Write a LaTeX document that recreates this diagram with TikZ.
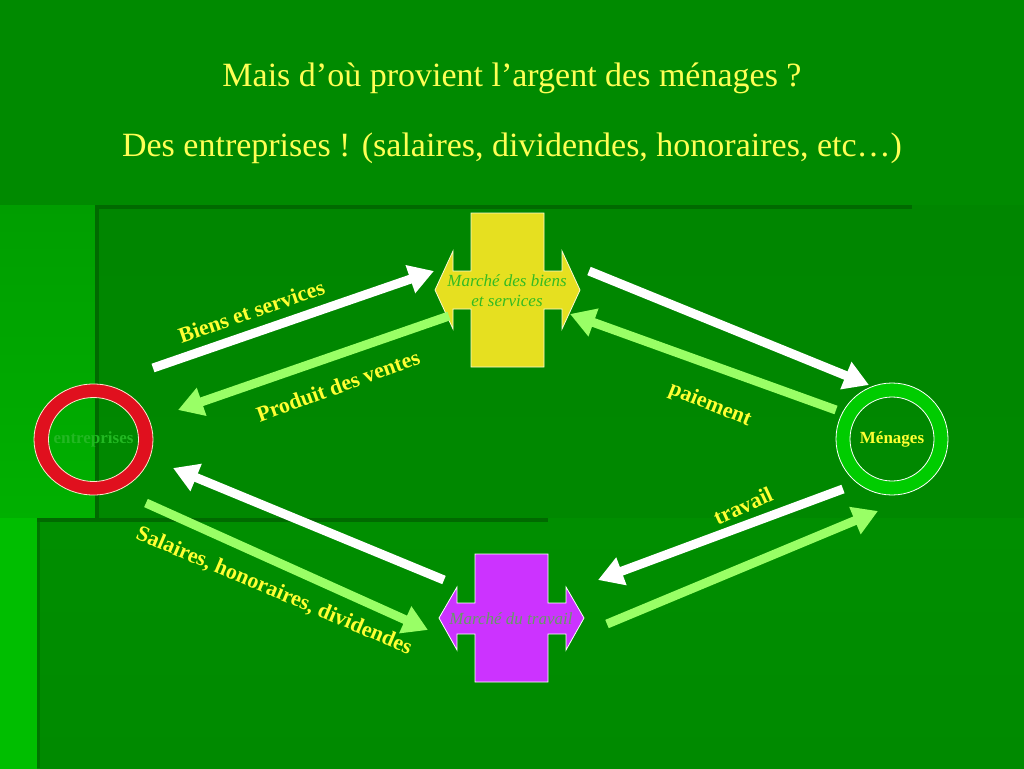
\documentclass[tikz,border=0pt]{standalone}
\usepackage{fontspec}
\setmainfont{Liberation Serif}
\usetikzlibrary{arrows.meta}

\definecolor{bgmain}{HTML}{008A00}
\definecolor{bgpanel}{HTML}{008600}
\definecolor{bglow}{HTML}{008E00}
\definecolor{bgleft}{HTML}{009E00}
\definecolor{bgleftlow}{HTML}{00BE00}
\definecolor{bgline}{HTML}{006A00}
\definecolor{titleyellow}{HTML}{FFFF55}
\definecolor{labelyellow}{HTML}{FFFF33}
\definecolor{arrowgreen}{HTML}{99FF66}
\definecolor{crossyellow}{HTML}{E6E020}
\definecolor{crosspurple}{HTML}{CC33FF}
\definecolor{ringred}{HTML}{E0101E}
\definecolor{ringgreen}{HTML}{00CC00}
\definecolor{biensgreen}{HTML}{33BB22}
\definecolor{travailgrey}{HTML}{669966}
\definecolor{entrgreen}{HTML}{22B822}

\tikzstyle{flow}=[line width=9pt, -{Triangle[length=25pt,width=28pt]}]
\tikzstyle{whiteflow}=[flow, draw=white, fill=white]
\tikzstyle{greenflow}=[flow, draw=arrowgreen, fill=arrowgreen]
\tikzstyle{flowlabel}=[text=labelyellow, inner sep=0pt,
                       font=\fontsize{22}{22}\selectfont\bfseries]
\tikzstyle{title}=[text=titleyellow, inner sep=0pt,
                   font=\fontsize{34}{34}\selectfont]
\tikzstyle{market}=[inner sep=0pt, align=center,
                    font=\fontsize{17}{20}\selectfont\itshape]
\tikzstyle{agent}=[inner sep=0pt, font=\fontsize{17}{17}\selectfont\bfseries]

\begin{document}
\begin{tikzpicture}[x=1pt, y=-1pt]

%%%%%%%%%%%%%%%%%%
% background
\useasboundingbox (0,0) rectangle (1024,768);
\fill[bgmain] (0,0) rectangle (1024,768);
\fill[bottom color=bgleftlow, top color=bgleft] (0,205) rectangle (95,768);
\fill[top color=bgpanel, bottom color=bgmain] (95,205) rectangle (1024,768);
\fill[top color=bglow, bottom color=bgmain] (37,518) rectangle (1024,768);
\fill[bgleftlow] (0,518) rectangle (37,768);
\fill[bgline] (95,205) rectangle (912,209);
\fill[bgline] (95,205) rectangle (99,520);
\fill[bgline] (37,518) rectangle (548,522);
\fill[bgline!70!bglow] (37,522) rectangle (40,768);

%%%%%%%%%%%%%%%%%%
% title
\node (Title1) at (512,78) [title] {Mais d’où provient l’argent des ménages ?};

\node (Title2) at (512,148) [title] {Des entreprises ! (salaires, dividendes, honoraires, etc…)};

%%%%%%%%%%%%%%%%%%
% markets
\fill[crossyellow, draw=white!80!crossyellow, line width=0.8pt]
  (435,290) -- (453,251) -- (453,271) -- (471,271) -- (471,213) -- (544,213)
  -- (544,271) -- (562,271) -- (562,251) -- (580,290) -- (562,329) -- (562,309)
  -- (544,309) -- (544,367) -- (471,367) -- (471,309) -- (453,309) -- (453,329) -- cycle;

\node (Biens_Market) at (507,291) [market, text=biensgreen] {Marché des biens\\ et services};

\fill[crosspurple, draw=white, line width=0.8pt]
  (439,618) -- (457,587) -- (457,603) -- (475,603) -- (475,554) -- (548,554)
  -- (548,603) -- (566,603) -- (566,587) -- (584,618) -- (566,650) -- (566,634)
  -- (548,634) -- (548,682) -- (475,682) -- (475,634) -- (457,634) -- (457,650) -- cycle;

\node (Travail_Market) at (511,619) [market, text=travailgrey] {Marché du travail};

%%%%%%%%%%%%%%%%%%
% agents
\coordinate (Entreprises_c) at (93.5,439.5);
\fill[ringred, even odd rule] (Entreprises_c) ellipse [x radius=59.5, y radius=55.5]
  (Entreprises_c) ellipse [x radius=45, y radius=42];
\draw[orange!20!white, line width=0.8pt] (Entreprises_c) ellipse [x radius=59.5, y radius=55.5]
  (Entreprises_c) ellipse [x radius=45, y radius=42];
\node (Entreprises) at (Entreprises_c) [agent, text=entrgreen] {entreprises};

\coordinate (Menages_c) at (892,439);
\fill[ringgreen, even odd rule] (Menages_c) circle [radius=56] (Menages_c) circle [radius=42];
\draw[white, line width=0.8pt] (Menages_c) circle [radius=56] (Menages_c) circle [radius=42];
\node (Menages) at (Menages_c) [agent, text=labelyellow] {Ménages};

%%%%%%%%%%%%%%%%%%
% arrow ends
\coordinate (Biens_tail) at (153,368);
\coordinate (Biens_tip) at (434,271);
\coordinate (Ventes_tail) at (449,316);
\coordinate (Ventes_tip) at (178,410);
\coordinate (Conso_tail) at (589,271);
\coordinate (Conso_tip) at (869,385);
\coordinate (Paiement_tail) at (836,410);
\coordinate (Paiement_tip) at (570,314);
\coordinate (Retour_tail) at (444,580);
\coordinate (Retour_tip) at (173,468);
\coordinate (Salaires_tail) at (146,503);
\coordinate (Salaires_tip) at (428,630);
\coordinate (Travail_tail) at (843,489);
\coordinate (Travail_tip) at (598,580);
\coordinate (Offre_tail) at (607,624);
\coordinate (Offre_tip) at (878,511);

%%%%%%%%%%%%%%%%%%%%
\draw [whiteflow] (Biens_tail) to (Biens_tip);

\draw [greenflow] (Ventes_tail) to (Ventes_tip);

\draw [whiteflow] (Conso_tail) to (Conso_tip);

\draw [greenflow] (Paiement_tail) to (Paiement_tip);

\draw [whiteflow] (Retour_tail) to (Retour_tip);

\draw [greenflow] (Salaires_tail) to (Salaires_tip);

\draw [whiteflow] (Travail_tail) to (Travail_tip);

\draw [greenflow] (Offre_tail) to (Offre_tip);

%%%%%%%%%%%%%%%%%%%%
% labels
\node (Biens_label) at (251.5,311.5) [flowlabel, rotate=19] {Biens et services};

\node (Ventes_label) at (338,386) [flowlabel, rotate=20] {Produit des ventes};

\node (Paiement_label) at (710,405) [flowlabel, rotate=-22] {paiement};

\node (Travail_label) at (743,506) [flowlabel, rotate=25] {travail};

\node (Salaires_label) at (274,591) [flowlabel, rotate=-23] {Salaires, honoraires, dividendes};

\end{tikzpicture}
\end{document}
